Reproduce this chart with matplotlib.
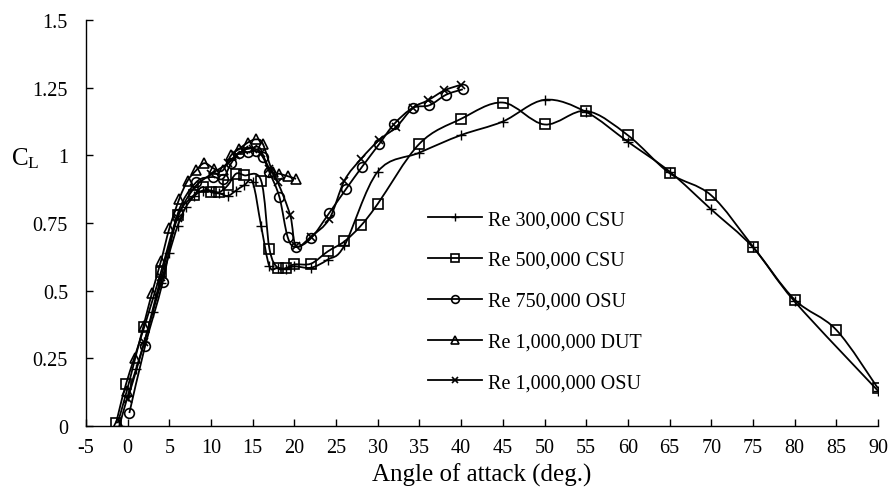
import matplotlib
matplotlib.use("Agg")
import matplotlib.pyplot as plt
from matplotlib.path import Path
from matplotlib.patches import PathPatch
from matplotlib.lines import Line2D
import numpy as np

plt.rcParams['font.family'] = ['Liberation Serif', 'DejaVu Serif']
plt.rcParams['mathtext.fontset'] = 'custom'
plt.rcParams['mathtext.rm'] = 'Liberation Serif'
plt.rcParams['mathtext.it'] = 'Liberation Serif:italic'
plt.rcParams['axes.unicode_minus'] = False

# ---------------- data ----------------
labels = ["Re 300,000 CSU", "Re 500,000 CSU", "Re 750,000 OSU",
          "Re 1,000,000 DUT", "Re 1,000,000 OSU"]

x_300k = [-1, 0, 1, 2, 3, 4, 5, 6, 7, 8, 9, 10, 11, 12, 13, 14, 15, 16, 17, 18,
          19, 20, 22, 24, 26, 30, 35, 40, 45, 50, 55, 60, 65, 70, 75, 80, 90]
y_300k = [0.0, 0.11, 0.21, 0.31, 0.42, 0.53, 0.64, 0.74, 0.81, 0.85, 0.87, 0.87,
          0.86, 0.85, 0.87, 0.89, 0.90, 0.74, 0.59, 0.585, 0.58, 0.59, 0.585,
          0.615, 0.667, 0.94, 1.01, 1.075, 1.125, 1.205, 1.16, 1.05, 0.94, 0.80,
          0.66, 0.46, 0.13]

x_500k = [-1.4, -0.2, 2, 4, 6, 8, 9, 10, 11, 12, 13, 14, 16, 17, 18, 19, 20, 22,
          24, 26, 28, 30, 35, 40, 45, 50, 55, 60, 65, 70, 75, 80, 85, 90]
y_500k = [0.01, 0.155, 0.367, 0.57, 0.778, 0.855, 0.883, 0.864, 0.864, 0.889,
          0.932, 0.926, 0.907, 0.655, 0.584, 0.584, 0.597, 0.60, 0.645, 0.682,
          0.741, 0.821, 1.043, 1.135, 1.195, 1.114, 1.164, 1.074, 0.934, 0.852,
          0.663, 0.467, 0.355, 0.139]

x_750k = [0.2, 2.1, 4.2, 6.0, 8.2, 10.2, 11.4, 12.4, 13.4, 14.4, 15.4, 16.2, 17.0,
          18.2, 19.2, 20.2, 22, 24.2, 26.2, 28.1, 30.2, 32, 34.2, 36.2, 38.2, 40.2]
y_750k = [0.048, 0.297, 0.531, 0.784, 0.90, 0.92, 0.913, 0.97, 1.01, 1.012, 1.016,
          0.994, 0.938, 0.846, 0.697, 0.661, 0.694, 0.788, 0.876, 0.957, 1.043,
          1.117, 1.175, 1.185, 1.224, 1.244]

x_1m_dut = [-1.2, -0.1, 0.9, 1.9, 2.9, 4.0, 5.0, 6.2, 7.2, 8.2, 9.2, 10.4, 11.4,
            12.4, 13.4, 14.4, 15.4, 16.2, 17.4, 18.2, 19.2, 20.2]
y_1m_dut = [0.01, 0.13, 0.25, 0.37, 0.49, 0.61, 0.73, 0.84, 0.907, 0.944, 0.971,
            0.95, 0.944, 1.0, 1.024, 1.047, 1.059, 1.043, 0.938, 0.932, 0.923, 0.913]

x_1m_osu = [0, 2, 4, 6, 8, 10, 12, 13, 14, 15, 16, 17, 18, 19.5, 20.2, 22, 24.2,
            26, 28, 30.2, 32.2, 34.2, 36, 38, 40]
y_1m_osu = [0.10, 0.31, 0.55, 0.77, 0.88, 0.93, 0.97, 1.0, 1.02, 1.025, 1.01, 0.95,
            0.90, 0.778, 0.665, 0.70, 0.766, 0.907, 0.987, 1.058, 1.104, 1.175,
            1.203, 1.24, 1.261]

x_ticks = list(range(-5, 95, 5))
y_ticks = [0, 0.25, 0.5, 0.75, 1, 1.25, 1.5]
y_ticklabels = ["0", "0.25", "0.5", "0.75", "1", "1.25", "1.5"]

series = [
    (x_300k, y_300k, '+', 7, 1.0),
    (x_500k, y_500k, 's', 7, 1.2),
    (x_750k, y_750k, 'o', 7, 1.2),
    (x_1m_dut, y_1m_dut, '^', 7, 1.2),
    (x_1m_osu, y_1m_osu, 'x', 6, 1.2),
]


def smooth_path(xs, ys):
    """Excel-style smoothed line: cubic Bezier through the data points."""
    p = np.column_stack([xs, ys]).astype(float)
    n = len(p)
    verts = [p[0]]
    codes = [Path.MOVETO]
    for i in range(n - 1):
        p0 = p[i - 1] if i > 0 else p[i]
        p1 = p[i]
        p2 = p[i + 1]
        p3 = p[i + 2] if i + 2 < n else p[i + 1]
        c1 = p1 + (p2 - p0) / 6.0
        c2 = p2 - (p3 - p1) / 6.0
        verts += [c1, c2, p2]
        codes += [Path.CURVE4] * 3
    return Path(verts, codes)


fig = plt.figure(figsize=(8.91, 4.89), dpi=100)
ax = fig.add_axes([86 / 891, 62 / 489, (878 - 86) / 891, (427 - 21) / 489])

handles = []
for xs, ys, mk, ms, mew in series:
    ax.add_patch(PathPatch(smooth_path(xs, ys), facecolor='none',
                           edgecolor='black', lw=1.3, zorder=2))
    ax.plot(xs, ys, linestyle='none', marker=mk, markersize=ms,
            markerfacecolor='none', markeredgecolor='black',
            markeredgewidth=mew, zorder=3)
    handles.append(Line2D([], [], color='black', lw=1.3, marker=mk,
                          markersize=ms * 0.8, markerfacecolor='none',
                          markeredgecolor='black', markeredgewidth=mew))

ax.set_xlim(-5, 90)
ax.set_ylim(0, 1.5)
ax.set_xticks(x_ticks)
ax.set_yticks(y_ticks)
ax.set_yticklabels(y_ticklabels)
ax.tick_params(direction='in', length=5, width=1, labelsize=14.5)
ax.tick_params(axis='y', pad=13)
ax.tick_params(axis='x', pad=9)
for s in ['top', 'right']:
    ax.spines[s].set_visible(False)
for s in ['left', 'bottom']:
    ax.spines[s].set_linewidth(1.0)

ax.set_xlabel("Angle of attack (deg.)", fontsize=18, labelpad=4)
ax.set_ylabel(r"C$_\mathregular{L}$", fontsize=18, rotation=0, va='center',
              ha='center', labelpad=0)
ax.yaxis.set_label_coords(-0.077, 0.66)

leg = ax.legend(handles, labels, loc='upper left',
                bbox_to_anchor=(428 / 891, 1 - 211 / 489),
                bbox_transform=fig.transFigure, frameon=False,
                fontsize=14.5, handlelength=2.7, handletextpad=0.3,
                labelspacing=1.08, numpoints=1, borderaxespad=0, borderpad=0)

fig.savefig("out.png", dpi=100)
